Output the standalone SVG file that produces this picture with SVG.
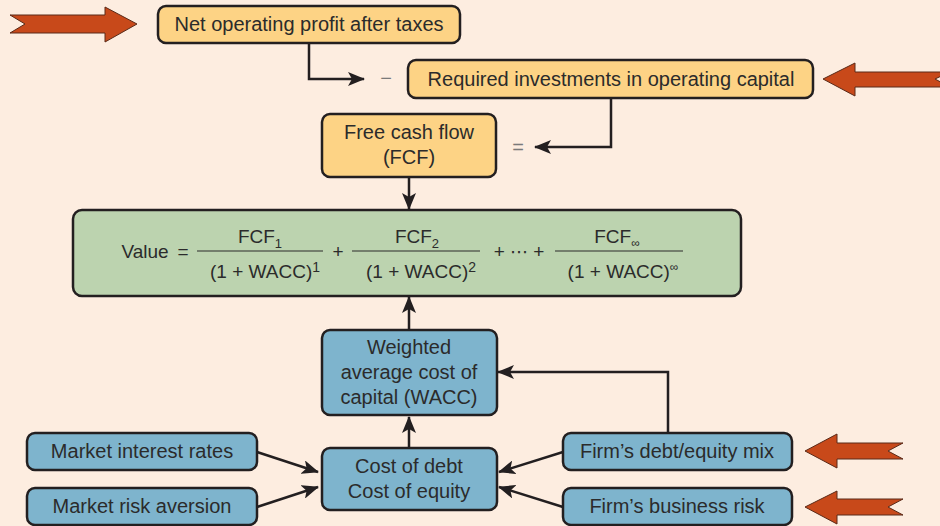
<svg xmlns="http://www.w3.org/2000/svg" width="940" height="526" viewBox="0 0 940 526">
<defs>
<style>
.bg{fill:#FDEDE0}
.box{stroke:#231F20;stroke-width:2.5}
.or{fill:#FDD385}
.gr{fill:#BCD3AF}
.bl{fill:#7EB4CD}
.t{font-family:"Liberation Sans",Arial,sans-serif;font-size:20px;fill:#2B2B2B;text-anchor:middle;dominant-baseline:central}
.f{font-family:"Liberation Sans",Arial,sans-serif;font-size:19px;fill:#2B2B2B;text-anchor:middle}
.op{font-family:"Liberation Sans",Arial,sans-serif;font-size:20px;fill:#7A7A7A;text-anchor:middle;dominant-baseline:central}
.c{fill:none;stroke:#231F20;stroke-width:2.5}
.bar{stroke:#2B2B2B;stroke-width:1.2}
.ra{fill:#C8491A;stroke:#5A2A18;stroke-width:1}
</style>
<marker id="ah" markerUnits="userSpaceOnUse" markerWidth="18" markerHeight="14" refX="16" refY="7" orient="auto">
<path d="M0,0 L17,7 L0,14 L4,7 Z" fill="#231F20"/>
</marker>
</defs>
<rect class="bg" x="0" y="0" width="940" height="526"/>

<g id="input-arrows">
<polygon class="ra" points="10,15 105,15 105,7 137,24 105,42 105,33 10,33 25,24"/>
<polygon class="ra" points="823,79 855,63 855,72 950,72 935,79 950,87 855,87 855,96"/>
<polygon class="ra" points="805,451 837,434 837,443 903,443 888,451 903,459 837,459 837,468"/>
<polygon class="ra" points="805,507 837,491 837,499 903,499 888,507 903,515 837,515 837,524"/>
</g>

<g id="connectors">
<path class="c" d="M309,43 V79 H364" marker-end="url(#ah)"/>
<path class="c" d="M611,98 V147 H535" marker-end="url(#ah)"/>
<path class="c" d="M409,177 V209" marker-end="url(#ah)"/>
<path class="c" d="M409,330 V297" marker-end="url(#ah)"/>
<path class="c" d="M409,448 V417" marker-end="url(#ah)"/>
<path class="c" d="M668,432 V372 H498" marker-end="url(#ah)"/>
<path class="c" d="M257,452 L318,472" marker-end="url(#ah)"/>
<path class="c" d="M257,507 L318,487" marker-end="url(#ah)"/>
<path class="c" d="M563,452 L499,472" marker-end="url(#ah)"/>
<path class="c" d="M563,507 L499,487" marker-end="url(#ah)"/>
<text class="op" x="386" y="78">−</text>
<text class="op" x="518" y="147">=</text>
</g>

<g id="nopat">
<rect class="box or" x="158" y="6" width="302" height="37" rx="8"/>
<text class="t" x="309" y="24">Net operating profit after taxes</text>
</g>
<g id="investments">
<rect class="box or" x="408" y="60" width="405" height="38" rx="8"/>
<text class="t" x="611" y="79">Required investments in operating capital</text>
</g>
<g id="fcf">
<rect class="box or" x="322" y="114" width="174" height="63" rx="8"/>
<text class="t" x="409" y="132">Free cash flow</text>
<text class="t" x="409" y="157">(FCF)</text>
</g>
<g id="value">
<rect class="box gr" x="73" y="210" width="668" height="86" rx="9"/>
<text class="f" x="145" y="258">Value</text>
<text class="f" x="183" y="258">=</text>
<line class="bar" x1="197" y1="251" x2="323" y2="251"/>
<text class="f" x="260" y="243">FCF<tspan font-size="13" dy="5">1</tspan></text>
<text class="f" x="265" y="278">(1 + WACC)<tspan font-size="14" dy="-6">1</tspan></text>
<text class="f" x="338" y="258">+</text>
<line class="bar" x1="352" y1="251" x2="480" y2="251"/>
<text class="f" x="417" y="243">FCF<tspan font-size="13" dy="5">2</tspan></text>
<text class="f" x="421" y="278">(1 + WACC)<tspan font-size="14" dy="-6">2</tspan></text>
<text class="f" x="519" y="258">+ <tspan font-family="DejaVu Sans" font-size="18">⋯</tspan> +</text>
<line class="bar" x1="555" y1="251" x2="683" y2="251"/>
<text class="f" x="617" y="243">FCF<tspan font-size="12" dy="4">∞</tspan></text>
<text class="f" x="623" y="278">(1 + WACC)<tspan font-size="12" dy="-7">∞</tspan></text>
</g>
<g id="wacc">
<rect class="box bl" x="322" y="330" width="175" height="85" rx="8"/>
<text class="t" x="409" y="347">Weighted</text>
<text class="t" x="409" y="372">average cost of</text>
<text class="t" x="409" y="397">capital (WACC)</text>
</g>
<g id="costs">
<rect class="box bl" x="322" y="448" width="175" height="62" rx="8"/>
<text class="t" x="409" y="466">Cost of debt</text>
<text class="t" x="409" y="491">Cost of equity</text>
</g>
<g id="market-rates">
<rect class="box bl" x="27" y="433" width="230" height="37" rx="8"/>
<text class="t" x="142" y="451">Market interest rates</text>
</g>
<g id="market-risk">
<rect class="box bl" x="27" y="488" width="230" height="37" rx="8"/>
<text class="t" x="142" y="506">Market risk aversion</text>
</g>
<g id="debt-mix">
<rect class="box bl" x="563" y="433" width="229" height="37" rx="8"/>
<text class="t" x="677" y="451">Firm’s debt/equity mix</text>
</g>
<g id="business-risk">
<rect class="box bl" x="563" y="488" width="229" height="37" rx="8"/>
<text class="t" x="677" y="506">Firm’s business risk</text>
</g>
</svg>
